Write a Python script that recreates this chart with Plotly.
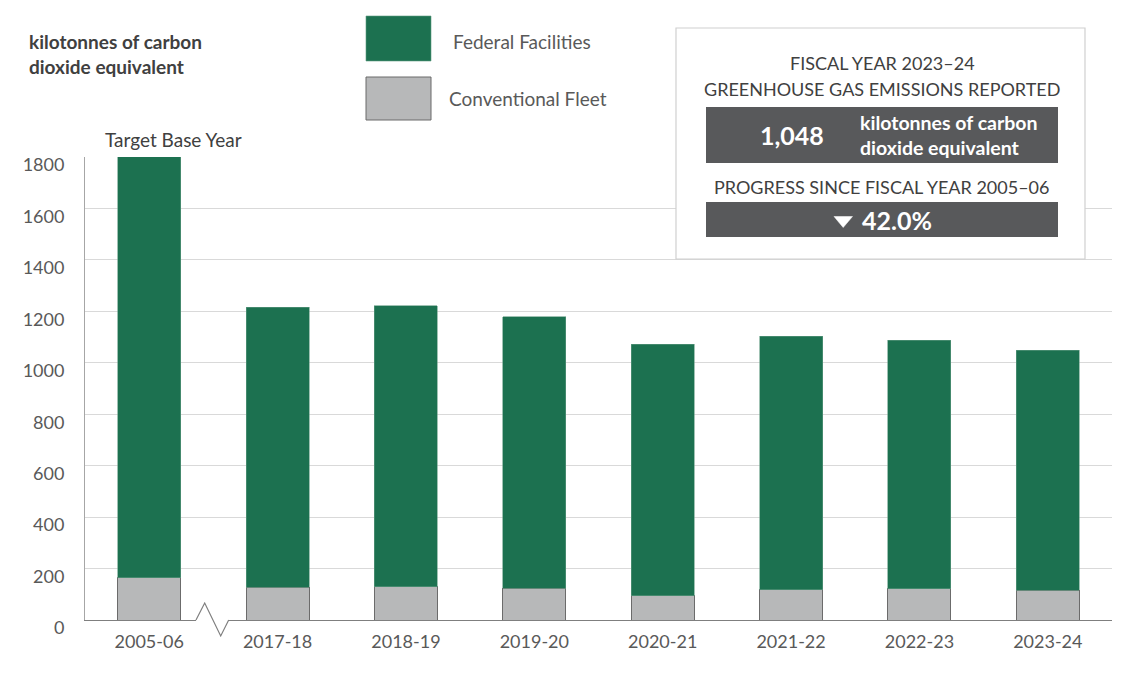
import plotly.graph_objects as go

# ---- data ----
years = ["2005-06", "2017-18", "2018-19", "2019-20", "2020-21", "2021-22", "2022-23", "2023-24"]
federal_facilities = [1643, 1089, 1092, 1054, 978, 987, 967, 933]
conventional_fleet = [164, 127, 130, 124, 95, 117, 121, 115]
y_ticks = [0, 200, 400, 600, 800, 1000, 1200, 1400, 1600, 1800]

series_names = ["Federal Facilities", "Conventional Fleet"]
unit_label = "kilotonnes of carbon<br>dioxide equivalent"
base_label = "Target Base Year"

totals = [a + b for a, b in zip(federal_facilities, conventional_fleet)]
latest_total = totals[-1]
progress = (1 - totals[-1] / totals[0]) * 100

# ---- styles ----
OFF = 8  # page body margin
W, H = 1141 - OFF, 673 - OFF
ML, MR, MT, MB = 85 - OFF, 29, 157 - OFF, 53
PW, PH = W - ML - MR, H - MT - MB
FONT = "Lato"
GREEN = "#1c7150"
GREY = "#b7b8b9"
TXT = "#595959"
DARK = "#404040"
BOX = "#58595b"


def px(x):
    return (x - OFF - ML) / PW


def py(y):
    return (H - MB - (y - OFF)) / PH


fig = go.Figure()
fig.add_trace(go.Bar(
    x=years, y=conventional_fleet, name=series_names[1],
    marker=dict(color=GREY, line=dict(color="#6b6b6b", width=1)),
    cliponaxis=False, hoverinfo="x+y",
))
fig.add_trace(go.Bar(
    x=years, y=federal_facilities, name=series_names[0],
    marker=dict(color=GREEN, line=dict(color="#5f9a80", width=0.6)),
    cliponaxis=False, hoverinfo="x+y",
))

shapes = []
annotations = []

# axis break on baseline between first and second category
shapes.append(dict(type="rect", xref="paper", yref="paper",
                   x0=px(196), x1=px(229), y0=py(618), y1=py(622),
                   fillcolor="white", line=dict(width=0), layer="above"))
shapes.append(dict(type="path", xref="paper", yref="paper",
                   path=f"M{px(196)},{py(620)} L{px(204.7)},{py(603)} L{px(220.7)},{py(636)} L{px(228.7)},{py(620)}",
                   line=dict(color="#7f7f7f", width=1.2), layer="above"))

# custom legend
shapes.append(dict(type="rect", xref="paper", yref="paper",
                   x0=px(366), x1=px(431), y0=py(61), y1=py(16),
                   fillcolor=GREEN, line=dict(color="#5f9a80", width=0.6)))
shapes.append(dict(type="rect", xref="paper", yref="paper",
                   x0=px(366), x1=px(431), y0=py(120), y1=py(77),
                   fillcolor=GREY, line=dict(color="#6b6b6b", width=1)))
annotations.append(dict(xref="paper", yref="paper", x=px(451), y=py(42),
                        text=series_names[0], showarrow=False, xanchor="left", yanchor="middle",
                        font=dict(family=FONT, size=19, color=TXT)))
annotations.append(dict(xref="paper", yref="paper", x=px(447), y=py(99),
                        text=series_names[1], showarrow=False, xanchor="left", yanchor="middle",
                        font=dict(family=FONT, size=19, color=TXT)))

# unit label top-left
annotations.append(dict(xref="paper", yref="paper", x=px(27), y=py(54),
                        text=f"<b>{unit_label}</b>", showarrow=False, xanchor="left", yanchor="middle",
                        align="left", font=dict(family=FONT, size=19, color=DARK)))

# Target base year
annotations.append(dict(xref="paper", yref="paper", x=px(173), y=py(140),
                        text=base_label, showarrow=False, xanchor="center", yanchor="middle",
                        font=dict(family=FONT, size=19, color=DARK)))

# info box
shapes.append(dict(type="rect", xref="paper", yref="paper",
                   x0=px(676), x1=px(1085), y0=py(259), y1=py(28),
                   fillcolor="white", line=dict(color="#d0d0d0", width=1.2), layer="above"))
shapes.append(dict(type="rect", xref="paper", yref="paper",
                   x0=px(706), x1=px(1058), y0=py(163), y1=py(107),
                   fillcolor=BOX, line=dict(width=0), layer="above"))
shapes.append(dict(type="rect", xref="paper", yref="paper",
                   x0=px(706), x1=px(1058), y0=py(237), y1=py(202),
                   fillcolor=BOX, line=dict(width=0), layer="above"))
# down triangle marker
shapes.append(dict(type="path", xref="paper", yref="paper",
                   path=f"M{px(834)},{py(216.5)} L{px(852.5)},{py(216.5)} L{px(843.2)},{py(227.5)} Z",
                   fillcolor="white", line=dict(color="white", width=0.5), layer="above"))
annotations.append(dict(xref="paper", yref="paper", x=px(882), y=py(63),
                        text="FISCAL YEAR 2023–24",
                        showarrow=False, xanchor="center", yanchor="middle",
                        font=dict(family=FONT, size=18, color=DARK)))
annotations.append(dict(xref="paper", yref="paper", x=px(882), y=py(89),
                        text="GREENHOUSE GAS EMISSIONS REPORTED",
                        showarrow=False, xanchor="center", yanchor="middle",
                        font=dict(family=FONT, size=18, color=DARK)))
annotations.append(dict(xref="paper", yref="paper", x=px(792), y=py(135),
                        text=f"<b>{latest_total:,}</b>",
                        showarrow=False, xanchor="center", yanchor="middle",
                        font=dict(family=FONT, size=25, color="white")))
annotations.append(dict(xref="paper", yref="paper", x=px(858), y=py(135),
                        text=f"<b>{unit_label}</b>", align="left",
                        showarrow=False, xanchor="left", yanchor="middle",
                        font=dict(family=FONT, size=19.5, color="white")))
annotations.append(dict(xref="paper", yref="paper", x=px(882), y=py(187),
                        text="PROGRESS SINCE FISCAL YEAR 2005–06",
                        showarrow=False, xanchor="center", yanchor="middle",
                        font=dict(family=FONT, size=18, color=DARK)))
annotations.append(dict(xref="paper", yref="paper", x=px(860), y=py(220),
                        text=f"<b>{progress:.1f}%</b>",
                        showarrow=False, xanchor="left", yanchor="middle",
                        font=dict(family=FONT, size=25, color="white")))

fig.update_layout(
    width=W, height=H,
    margin=dict(l=ML, r=MR, t=MT, b=MB, pad=0),
    barmode="stack", bargap=0.51,
    plot_bgcolor="white", paper_bgcolor="white",
    showlegend=False,
    shapes=shapes, annotations=annotations,
    font=dict(family=FONT, color=TXT, size=18),
    xaxis=dict(type="category", showgrid=False, showline=True, linecolor="#7f7f7f", linewidth=1.2,
               ticks="", tickfont=dict(family=FONT, size=18, color=TXT), ticklabelstandoff=5,
               fixedrange=True),
    yaxis=dict(range=[0, 1800], tickvals=y_ticks, showgrid=True, gridcolor="#d9d9d9", gridwidth=1,
               showline=True, linecolor="#a6a6a6", linewidth=1, zeroline=False, ticks="",
               tickfont=dict(family=FONT, size=18, color=TXT), ticklabelstandoff=16,
               ticklabelshift=8, fixedrange=True),
)

fig.write_html("out.html")
